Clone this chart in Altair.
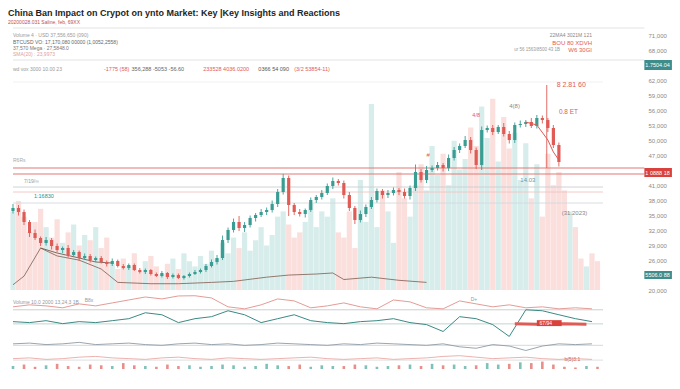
import altair as alt
import pandas as pd

TITLE = "China Ban Impact on Crypot on ynto Market:  Key |Key Insights and Reactions"
SUBTITLE = "20200028.031  Saline, feb, 69XX"

# ---------------- candles (main panel) ----------------
FIRST_OPEN = 35800
CLOSE = [
    36400, 35600, 33600, 31400, 30400, 29400, 30000, 28800, 28000, 28400,
    27000, 27600, 26400, 26800, 26000, 26400, 25600, 25200, 25800, 24800,
    24400, 25000, 24000, 23600, 24000, 23200, 22800, 23400, 22600, 23000,
    22400, 22800, 23200, 23600, 24000, 24800, 25600, 26400, 30000, 32000,
    33600, 32400, 33000, 34400, 35000, 35600, 36000, 37200, 39600, 42400,
    37000, 35600, 35200, 36000, 38000, 38600, 39400, 40800, 41800, 41400,
    39000, 36400, 34000, 35200, 36600, 38000, 39800, 39000, 39400, 40000,
    39600, 38800, 40400, 43600, 42000, 44000, 44400, 45000, 44400, 46400,
    48000, 48800, 50000, 48000, 45000, 52000, 52400, 51600, 52600, 51200,
    50000, 53000, 53200, 53600, 52800, 54400, 54000, 52400, 49000, 45600,
]
WICK_UP = [  # hundreds
    8, 6, 5, 4, 7, 3, 6, 4, 5, 3,
    6, 4, 3, 5, 4, 3, 4, 3, 5, 3,
    4, 3, 3, 4, 3, 2, 3, 4, 2, 3,
    3, 2, 3, 4, 3, 4, 5, 6, 9, 5,
    7, 12, 6, 5, 4, 6, 5, 7, 6, 8,
    5, 4, 6, 3, 5, 4, 6, 5, 7, 4,
    5, 6, 4, 7, 5, 6, 5, 4, 6, 5,
    4, 7, 5, 15, 6, 8, 5, 6, 4, 7,
    6, 5, 8, 6, 5, 7, 5, 6, 4, 8,
    6, 5, 7, 4, 8, 6, 5, 4, 6, 5,
]
WICK_DN = [
    5, 7, 6, 8, 4, 6, 5, 7, 4, 6,
    5, 4, 6, 3, 5, 4, 3, 5, 4, 3,
    3, 4, 2, 3, 4, 3, 2, 3, 4, 3,
    2, 3, 3, 2, 3, 4, 3, 5, 4, 6,
    5, 6, 8, 5, 7, 4, 6, 5, 6, 5,
    22, 6, 5, 7, 4, 6, 5, 4, 6, 5,
    7, 6, 8, 5, 6, 4, 5, 7, 6, 5,
    6, 5, 7, 6, 5, 6, 4, 5, 7, 6,
    5, 6, 4, 7, 8, 10, 5, 6, 4, 5,
    7, 6, 5, 6, 4, 5, 7, 8, 6, 9,
]
VOLUME = [
    30, 34, 28, 22, 26, 31, 24, 20, 27, 18, 22, 25, 17, 21, 19, 24, 16, 20,
    10, 8, 12, 9, 14, 7, 11, 13, 9, 6, 10, 12, 8, 14, 11, 9, 13, 10, 15, 12,
    18, 14, 20, 16, 22, 15, 19, 24, 17, 21, 28, 30, 25, 20, 22,
    26, 33, 24, 30, 28, 35, 22,
    20, 30, 16, 42, 26, 71, 24, 38, 30, 18, 45, 35, 28, 40,
    48, 38, 55, 44, 52, 40, 57, 46, 50,
    62, 55, 70, 58, 73, 49, 66, 54, 60,
    42, 56, 35, 48, 28, 52, 40,
    45, 38, 30, 24,
    12, 9, 14, 11,
]
VOL_EXTRA_DIR = ["down", "up", "down", "down", "up", "down", "down"]

VMA_X = [0, 2, 5, 8, 12, 16, 19, 25, 30, 36, 40, 46, 50, 55, 58, 60, 65, 70, 75]
VMA_V = [2, 5.3, 16, 13, 11.4, 8, 2.9, 2.4, 2.4, 2.9, 3.3, 4.9, 5.7, 6.1, 6.5, 4, 4.9, 3.7, 2.9]

PMA_X = [5, 8, 12, 15, 18]
PMA_V = [28400, 27400, 26400, 25600, 25400]
RMA_X = [93, 95, 97, 98, 99]
RMA_V = [53600, 53000, 50000, 47600, 46000]

MAIN_XTICKS = [3, 11, 22, 33, 42, 50, 61, 65, 72, 82, 90, 99]
MAIN_XLABELS = ["2/1/20", "3/17/20", "5/1/20", "7/14/2020", "9/1/20", "10/2/20",
                "1/1/21", "2/7/21", "4/13/21", "7/14/21", "9/8/21", "12/7/21"]
PRICE_TICKS = [20000, 26000, 29000, 32000, 35000, 38000, 41000, 47000,
               50000, 53000, 56000, 59000, 62000, 68000, 71000]

# ---------------- lower indicator panel ----------------
LX = list(range(0, 106, 3))
PINK = [84, 86.7, 85.3, 82.7, 88, 85.3, 89.3, 93.3, 97.3, 94.7,
        98.7, 99, 96, 84, 81.3, 86.7, 94.7, 92, 82.7, 85.3,
        89.3, 84, 81.3, 93.3, 90.7, 82.7, 81.3, 92, 88, 84,
        86.7, 82.7, 84, 81.3, 82.7, 81.3]
TEAL = [64, 62.7, 65.3, 61.3, 64, 62.7, 65.3, 68, 76, 73.3,
        62.7, 68, 70.7, 78.7, 73.3, 62.7, 68, 73.3, 65.3, 62.7,
        61.3, 64, 65.3, 68, 62.7, 60, 50.7, 70.7, 68, 60,
        44, 80, 78.7, 73.3, 68, 64]
GRAY = [34, 35, 33, 34, 36, 33, 34, 35, 33, 32,
        34, 35, 33, 34, 32, 33, 35, 34, 33, 32,
        34, 33, 35, 34, 33, 32, 34, 30, 28, 33,
        31, 25, 31, 34, 33, 34]
FAINT = [14, 15, 13, 14, 16, 17, 15, 14, 13, 15,
         16, 14, 13, 15, 14, 13, 14, 15, 16, 14,
         13, 14, 15, 13, 14, 15, 17, 18, 16, 14,
         15, 16, 14, 13, 14, 13]
LB_X = list(range(0, 107, 2))
LB_V = [4, 6, 3, 5, 7, 4, 3, 6, 5, 4, 8, 5, 4, 3, 6, 4, 5, 3, 4, 6,
        5, 3, 4, 7, 5, 4, 6, 3, 5, 4, 4, 6, 5, 3, 4, 5, 6, 4, 7, 5,
        6, 4, 5, 8, 6, 7, 9, 8, 10, 6, 3, 2, 4, 3]
SEG_X = [91, 95, 100, 104]
SEG_V = [61, 60.5, 61, 60.5]
LOW_YTICKS = [79, 53, 31, 2]
LOW_YLABELS = ["384,250", "502,000", "503,500", "500,000"]
LOW_XTICKS = list(range(0, 103, 6))
LOW_XLABELS = ["1/05/2020", "1/03/21", "1/02/21", "1/08/21", "1/12/21", "2/06/21",
               "3/01/21", "3/27/21", "4/17/21", "5/18/21", "6/22/21", "8/03/21",
               "9/14/21", "10/26/21", "11/23/21", "1/04/22", "2/15/22", "3/29/22"]

RED = "#df5b55"
TEALC = "#3a9d93"

# ---------------- build tables ----------------
opens = [FIRST_OPEN] + CLOSE[:-1]
cdf = pd.DataFrame({
    "idx": list(range(len(CLOSE))),
    "open": opens,
    "close": CLOSE,
    "high": [max(o, c) + u * 100 for o, c, u in zip(opens, CLOSE, WICK_UP)],
    "low": [min(o, c) - d * 100 for o, c, d in zip(opens, CLOSE, WICK_DN)],
    "dir": ["up" if c >= o else "down" for o, c in zip(opens, CLOSE)],
})
vdirs = list(cdf["dir"]) + VOL_EXTRA_DIR
vdf = pd.DataFrame({"idx": list(range(len(VOLUME))), "vol": VOLUME, "dir": vdirs})


def label_expr(values, labels):
    expr = "''"
    for v, l in reversed(list(zip(values, labels))):
        expr = f"datum.value == {v} ? '{l}' : {expr}"
    return expr


XS = alt.Scale(domain=[0, 107], nice=False, zero=False)
PS = alt.Scale(domain=[20000, 72400], nice=False, zero=False)
VS = alt.Scale(domain=[0, 100], nice=False, zero=False)
cond = alt.condition("datum.dir == 'up'", alt.value(TEALC), alt.value(RED))


def X(field="idx", axis=None):
    return alt.X(f"{field}:Q", scale=XS, axis=axis, title=None)


def PY(field, axis=None):
    return alt.Y(f"{field}:Q", scale=PS, axis=axis, title=None)


main_x_axis = alt.Axis(values=MAIN_XTICKS, labelExpr=label_expr(MAIN_XTICKS, MAIN_XLABELS),
                       labelFontSize=5.5, labelColor="#888", ticks=False, domain=False,
                       grid=True, gridColor="#ececec", labelPadding=2, labelOverlap=False)
price_axis = alt.Axis(orient="right", values=PRICE_TICKS, format=",.0f", labelFontSize=6,
                      labelColor="#8a8a8a", ticks=False, domain=False, grid=False,
                      labelPadding=40, labelOverlap=False)

vol_layer = alt.Chart(vdf).mark_bar(size=5.2, opacity=0.42).encode(
    x=X(axis=main_x_axis),
    y=alt.Y("vol:Q", scale=VS, axis=None),
    color=alt.condition("datum.dir == 'up'", alt.value("#9fd5cf"), alt.value("#f2b3ae")),
)
vma_layer = alt.Chart(pd.DataFrame({"idx": VMA_X, "v": VMA_V})).mark_line(
    color="#8b6b60", strokeWidth=0.9).encode(x=X(), y=alt.Y("v:Q", scale=VS, axis=None))

hr = pd.DataFrame({
    "price": [72400, 66000, 61600, 44400, 43200, 40600, 39600, 37400],
    "x0": [0, 0, 0, 0, 0, 0, 0, 0],
    "x1": [114.5, 114.5, 107, 114.5, 114.5, 107, 107, 107],
    "col": ["#dcdcdc", "#dcdcdc", "#eeeeee", "#e07a74", "#e07a74", "#c9cdd2", "#f1c4c1", "#d4d8dc"],
    "w": [0.8, 0.8, 0.8, 1.2, 1.2, 0.9, 0.9, 0.9],
})
hr_layer = alt.Chart(hr).mark_rule().encode(
    x=X("x0"), x2="x1:Q", y=PY("price"),
    color=alt.Color("col:N", scale=None), strokeWidth=alt.StrokeWidth("w:Q", scale=None))

vr_layer = alt.Chart(pd.DataFrame({"idx": [96.8], "p1": [61000], "p2": [44400]})).mark_rule(
    color=RED, strokeWidth=0.9).encode(x=X(), y=PY("p1"), y2="p2:Q")

pma_layer = alt.Chart(pd.DataFrame({"idx": PMA_X, "p": PMA_V})).mark_line(
    color="#7a5a50", strokeWidth=0.9).encode(x=X(), y=PY("p"))
rma_layer = alt.Chart(pd.DataFrame({"idx": RMA_X, "p": RMA_V})).mark_line(
    color=RED, strokeWidth=1).encode(x=X(), y=PY("p"))

wick_layer = alt.Chart(cdf).mark_rule(strokeWidth=0.9).encode(
    x=X(), y=PY("low", axis=price_axis), y2="high:Q", color=cond)
body_layer = alt.Chart(cdf).mark_bar(size=3.2).encode(
    x=X(), y=PY("open"), y2="close:Q", color=cond)

txt_left = pd.DataFrame({
    "t": ["Volume 4 \u00b7  USD 37,556,650 (090)", "BTCUSD  VO: 17,170,080 00000  (1,0052,2558)",
          "37,570  Mega \u00b7 27,5848.0", "SMA(20) : 23,9973",
          "wd  vox 3000 10.00 23", "-1775 (58)", "356,288 -5053 -56.60", "233528 4036.0200",
          "0366 54 090", "(3/2 53854-11)",
          "8 2.81 60", "0.8 ET", "4(8)", "4/8", "#", "14.03", "(31.2023)", "7/19/\u221e", "1:16830", "R6Rs"],
    "idx": [0, 0, 0, 0, 0, 16.5, 21.5, 34.5, 44.5, 51,
            98.6, 99, 90, 83.3, 75, 92, 99.5, 2, 3.8, 0],
    "p": [71000, 69600, 68400, 67200, 64200, 64200, 64200, 64200, 64200, 64200,
          61000, 55600, 56800, 55000, 47000, 42000, 35400, 41800, 38800, 46000],
    "col": ["#999", "#666", "#777", "#e0a09c", "#999", RED, "#666", RED, "#555", RED,
            RED, RED, "#888", RED, RED, "#7f8f9a", "#888", "#999", "#2f8f88", "#aaa"],
    "fs": [5, 5, 5, 5, 5, 5.5, 5.5, 5.5, 5.5, 5.5, 7, 6.5, 6, 5.5, 6, 6, 6, 5, 5.5, 5],
})
txtL_layer = alt.Chart(txt_left).mark_text(align="left", baseline="middle").encode(
    x=X(), y=PY("p"), text="t:N", color=alt.Color("col:N", scale=None), size=alt.Size("fs:Q", scale=None))

txt_right = pd.DataFrame({
    "t": ["22MA4  3021M  121", "BOU 80 XDVH", "W6 30GI", "ur 56 1563/8500 43 1B"],
    "idx": [105, 105, 105, 99.2],
    "p": [71000, 69400, 68000, 68000],
    "col": ["#888", RED, RED, "#999"],
    "fs": [5, 6, 6, 4.5],
})
txtR_layer = alt.Chart(txt_right).mark_text(align="right", baseline="middle").encode(
    x=X(), y=PY("p"), text="t:N", color=alt.Color("col:N", scale=None), size=alt.Size("fs:Q", scale=None))

badges = pd.DataFrame({
    "idx": [114.5, 114.5, 114.5], "idx2": [119.5, 119.5, 119.5],
    "p1": [66000, 44400, 23800], "p2": [64000, 42600, 22200],
    "col": ["#3f8d8a", "#d9413c", "#3f8d8a"],
    "t": ["1.7504.04", "1 0888 18", "5506.0 88"],
    "pm": [65000, 43500, 23000],
})
badge_layer = alt.Chart(badges).mark_rect().encode(
    x=X(), x2="idx2:Q", y=PY("p1"), y2="p2:Q", color=alt.Color("col:N", scale=None))
badge_txt = alt.Chart(badges).mark_text(align="left", baseline="middle", fontSize=5.5, color="white", dx=1).encode(
    x=X(), y=PY("pm"), text="t:N")

main = alt.layer(
    vol_layer, vma_layer, hr_layer, vr_layer, pma_layer, wick_layer, body_layer, rma_layer,
    txtL_layer, txtR_layer, badge_layer, badge_txt,
).resolve_scale(y="independent").properties(width=600, height=262)

# ---------------- lower panel ----------------
LS = alt.Scale(domain=[0, 100], nice=False, zero=False)
low_x_axis = alt.Axis(values=LOW_XTICKS, labelExpr=label_expr(LOW_XTICKS, LOW_XLABELS),
                      labelFontSize=5, labelColor="#888", ticks=False, domain=False, grid=False,
                      labelPadding=2, labelOverlap=False)
low_y_axis = alt.Axis(orient="right", values=LOW_YTICKS, labelExpr=label_expr(LOW_YTICKS, LOW_YLABELS),
                      labelFontSize=5.5, labelColor="#888", ticks=False, domain=False, grid=False,
                      labelPadding=42, labelOverlap=False)

lr = pd.DataFrame({"v": [80, 61, 32, 12], "x0": [0, 0, 0, 0], "x1": [107, 107, 107, 107],
                   "col": ["#c8c8c8", "#b9cfcf", "#d2d2d2", "#dddddd"]})
lrule_layer = alt.Chart(lr).mark_rule(strokeWidth=0.9).encode(
    x=alt.X("x0:Q", scale=XS, axis=low_x_axis, title=None), x2="x1:Q",
    y=alt.Y("v:Q", scale=LS, axis=low_y_axis, title=None),
    color=alt.Color("col:N", scale=None))

ldirs = [vdirs[i] for i in LB_X]
lbar_layer = alt.Chart(pd.DataFrame({"idx": LB_X, "v": LB_V, "dir": ldirs})).mark_bar(size=2.6, opacity=0.8).encode(
    x=X(), y=alt.Y("v:Q", scale=LS, axis=None), color=alt.condition(
        "datum.dir == 'up'", alt.value("#5fb1a8"), alt.value("#e2736d")))


def lline(vals, color, width, opacity=1.0):
    return alt.Chart(pd.DataFrame({"idx": LX, "v": vals})).mark_line(
        color=color, strokeWidth=width, opacity=opacity).encode(x=X(), y=alt.Y("v:Q", scale=LS, axis=None))


seg_layer = alt.Chart(pd.DataFrame({"idx": SEG_X, "v": SEG_V})).mark_line(
    color=RED, strokeWidth=3).encode(x=X(), y=alt.Y("v:Q", scale=LS, axis=None))

ltxt = pd.DataFrame({
    "t": ["Volume 10.0 2000 13,24,3 1B", "B8x", "D+", "b(5)3.1", "67/94"],
    "idx": [0, 13, 83, 100, 95.5],
    "v": [90, 93, 94, 14, 62],
    "col": ["#999", "#999", "#999", "#c66", "white"],
})
lbox_layer = alt.Chart(pd.DataFrame({"idx": [95], "idx2": [99.5], "v1": [58], "v2": [66]})).mark_rect(
    color="#d9413c").encode(x=X(), x2="idx2:Q", y=alt.Y("v1:Q", scale=LS, axis=None), y2="v2:Q")
ltxt_layer = alt.Chart(ltxt).mark_text(align="left", baseline="middle", fontSize=5).encode(
    x=X(), y=alt.Y("v:Q", scale=LS, axis=None), text="t:N", color=alt.Color("col:N", scale=None))

lower = alt.layer(
    lrule_layer, lbar_layer,
    lline(FAINT, "#eaa9a5", 0.9),
    lline(GRAY, "#8e9ba6", 0.9),
    lline(PINK, "#e49c97", 1.0),
    lline(TEAL, "#3b8a84", 1.0),
    seg_layer, lbox_layer, ltxt_layer,
).properties(width=600, height=74)

chart = alt.vconcat(main, lower, spacing=0).properties(
    title=alt.TitleParams(TITLE, subtitle=SUBTITLE, anchor="start", font="Liberation Sans",
                          fontSize=9, fontWeight="bold", color="#1e1e1e",
                          subtitleFont="Liberation Sans", subtitleFontSize=5,
                          subtitleColor="#c0504d", offset=3, subtitlePadding=2),
    padding=0,
).configure(font="Liberation Sans").configure_view(stroke=None)

chart.save("out.html", embed_options={"renderer": "svg", "actions": False})
